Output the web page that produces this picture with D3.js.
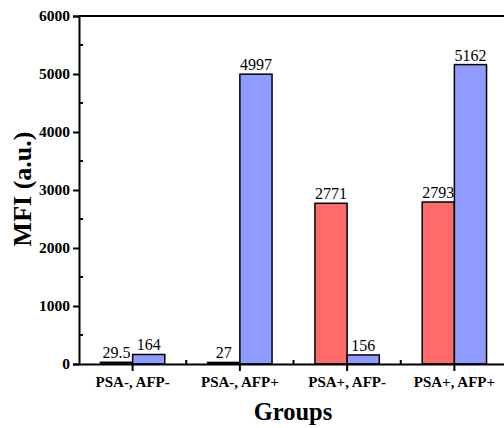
<!DOCTYPE html>
<html>
<head>
<meta charset="utf-8">
<script src="https://cdn.jsdelivr.net/npm/d3@7"></script>
<style>
  body { margin: 0; background: #fff; }
  svg { display: block; }
</style>
</head>
<body>
<div id="chart"></div>
<script>
const groups = ["PSA-, AFP-", "PSA-, AFP+", "PSA+, AFP-", "PSA+, AFP+"];
const series = ["PSA", "AFP"];
const psaValues = [29.5, 27, 2771, 2793];
const afpValues = [164, 4997, 156, 5162];
const yTicks = [0, 1000, 2000, 3000, 4000, 5000, 6000];
const colors = ["#ff6b6b", "#8f9bff"];

const width = 504, height = 428;
const margin = ({ top: 16, right: -4, bottom: 64, left: 79 });

const data = groups.map((g, i) => ({ group: g, PSA: psaValues[i], AFP: afpValues[i] }));

let svg = d3.select("#chart")
  .append("svg")
  .attr("width", width)
  .attr("height", height);

let x = d3.scaleBand()
  .domain(groups)
  .range([margin.left, width - margin.right])
  .paddingInner(0.4)
  .paddingOuter(0.2);

let xStep = x.step();

let xInner = d3.scaleBand()
  .domain(series)
  .range([0, x.bandwidth()]);

let y = d3.scaleLinear()
  .domain([0, 6000])
  .range([height - margin.bottom, margin.top]);

const font = "'Liberation Serif', 'Times New Roman', serif";

// bars
let bar = svg.selectAll(".bar")
  .data(data)
  .join("g")
  .attr("class", "bar")
  .attr("transform", d => `translate(${x(d.group)},0)`);

bar.selectAll("rect")
  .data(d => series.map(s => ({ key: s, value: d[s] })))
  .join("rect")
  .attr("x", d => xInner(d.key))
  .attr("width", xInner.bandwidth())
  .attr("y", d => y(d.value))
  .attr("height", d => y(0) - y(d.value))
  .attr("fill", (d, i) => colors[i])
  .attr("stroke", "#000")
  .attr("stroke-width", 1.5);

bar.selectAll("text")
  .data(d => series.map(s => ({ key: s, value: d[s] })))
  .join("text")
  .text(d => d.value)
  .attr("x", d => xInner(d.key) + xInner.bandwidth() / 2)
  .attr("y", d => y(d.value) - 4)
  .attr("text-anchor", "middle")
  .attr("font-family", font)
  .attr("font-size", 16)
  .attr("fill", "#000");

// y axis
let yAxis = svg.append("g")
  .attr("transform", `translate(${margin.left},0)`)
  .call(d3.axisLeft(y).tickValues(yTicks).tickFormat(d3.format("d")).tickSize(6).tickPadding(3));

yAxis.select(".domain").attr("stroke-width", 2);
yAxis.selectAll(".tick line").attr("stroke-width", 2);
yAxis.selectAll(".tick text")
  .attr("font-family", font)
  .attr("font-weight", "bold")
  .attr("font-size", 15.5)
  .attr("fill", "#000");

// y minor ticks (inside)
svg.append("g")
  .selectAll("line")
  .data(d3.range(500, 6000, 1000))
  .join("line")
  .attr("x1", margin.left)
  .attr("x2", margin.left + 4)
  .attr("y1", d => y(d))
  .attr("y2", d => y(d))
  .attr("stroke", "#000")
  .attr("stroke-width", 2);

// x axis
let xAxis = svg.append("g")
  .attr("transform", `translate(0,${y(0)})`)
  .call(d3.axisBottom(x).tickSize(7).tickPadding(5).tickSizeOuter(0));

xAxis.select(".domain").attr("stroke-width", 2);
xAxis.selectAll(".tick line").attr("stroke-width", 2);
xAxis.selectAll(".tick text")
  .attr("font-family", font)
  .attr("font-weight", "bold")
  .attr("font-size", 15)
  .attr("fill", "#000");

// x minor ticks between groups (inside)
svg.append("g")
  .selectAll("line")
  .data(groups.slice(1))
  .join("line")
  .attr("x1", d => x(d) - xStep * 0.2)
  .attr("x2", d => x(d) - xStep * 0.2)
  .attr("y1", y(0))
  .attr("y2", y(0) - 4)
  .attr("stroke", "#000")
  .attr("stroke-width", 2);

// top frame line
svg.append("line")
  .attr("x1", margin.left)
  .attr("x2", width)
  .attr("y1", y(6000))
  .attr("y2", y(6000))
  .attr("stroke", "#000")
  .attr("stroke-width", 2);

// axis titles
svg.append("text")
  .text("Groups")
  .attr("x", 293)
  .attr("y", 420)
  .attr("text-anchor", "middle")
  .attr("font-family", font)
  .attr("font-weight", "bold")
  .attr("font-size", 24.5);

svg.append("text")
  .text("MFI (a.u.)")
  .attr("transform", `translate(31,189) rotate(-90)`)
  .attr("text-anchor", "middle")
  .attr("font-family", font)
  .attr("font-weight", "bold")
  .attr("font-size", 26);
</script>
</body>
</html>
